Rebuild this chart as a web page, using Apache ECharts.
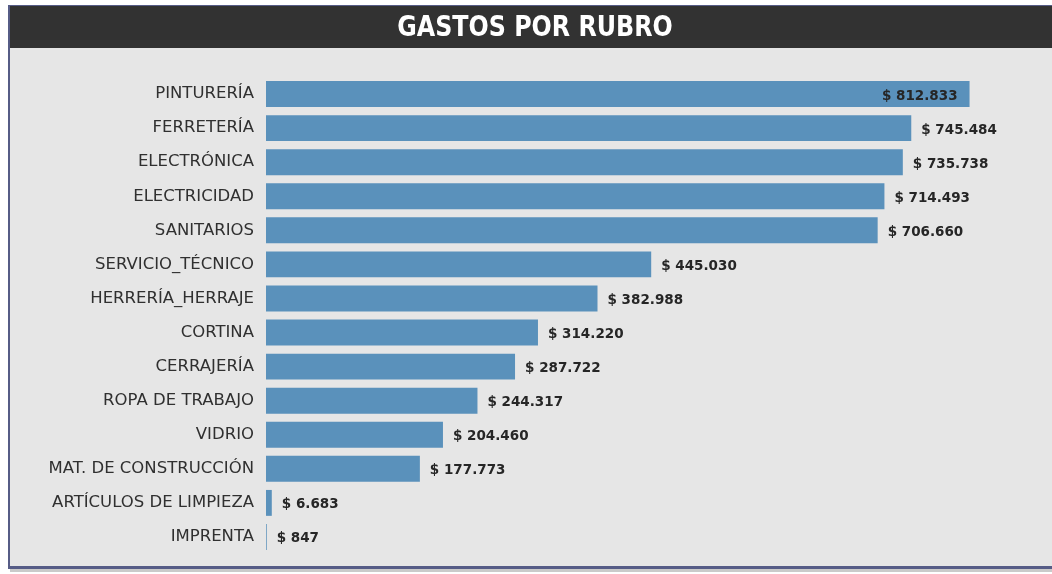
<!DOCTYPE html>
<html>
<head>
<meta charset="utf-8">
<script src="https://cdn.jsdelivr.net/npm/echarts@6/dist/echarts.min.js"></script>
<style>
  html, body { margin: 0; padding: 0; background: #fff; }
  #chart { width: 1052px; height: 574px; }
</style>
</head>
<body>
<div id="chart"></div>
<script>
const rubros = [
  'PINTURERÍA', 'FERRETERÍA', 'ELECTRÓNICA', 'ELECTRICIDAD', 'SANITARIOS',
  'SERVICIO_TÉCNICO', 'HERRERÍA_HERRAJE', 'CORTINA', 'CERRAJERÍA',
  'ROPA DE TRABAJO', 'VIDRIO', 'MAT. DE CONSTRUCCIÓN', 'ARTÍCULOS DE LIMPIEZA', 'IMPRENTA'
];
const gastos = [
  812833, 745484, 735738, 714493, 706660,
  445030, 382988, 314220, 287722,
  244317, 204460, 177773, 6683, 847
];

const fmtPesos = v => '$ ' + String(v).replace(/\B(?=(\d{3})+(?!\d))/g, '.');

const chart = echarts.init(document.getElementById('chart'));

chart.setOption({
  animation: false,
  graphic: [
    // sombra, borde y fondo del panel
    { type: 'rect', shape: { x: 10, y: 8, width: 1050, height: 564 }, style: { fill: '#cacaca' }, z: -10 },
    { type: 'rect', shape: { x: 8, y: 5, width: 1050, height: 564 }, style: { fill: '#565c86' }, z: -9 },
    { type: 'rect', shape: { x: 10, y: 48, width: 1050, height: 518 }, style: { fill: '#e6e6e6' }, z: -8 },
    { type: 'rect', shape: { x: 10, y: 6, width: 1050, height: 42 }, style: { fill: '#323232' }, z: -8 },
    {
      type: 'text',
      x: 535,
      y: 28,
      scaleX: 0.82,
      style: {
        text: 'GASTOS POR RUBRO',
        fill: '#ffffff',
        align: 'center',
        verticalAlign: 'middle',
        font: 'bold 29px "DejaVu Sans", sans-serif'
      },
      z: 5
    }
  ],
  grid: {
    left: 266,
    top: 77,
    width: 779,
    height: 477,
    containLabel: false
  },
  xAxis: {
    type: 'value',
    min: 0,
    max: 900000,
    show: false
  },
  yAxis: {
    type: 'category',
    data: rubros,
    inverse: true,
    axisLine: { show: false },
    axisTick: { show: false },
    axisLabel: {
      color: '#303030',
      fontSize: 16.5,
      fontFamily: '"DejaVu Sans", sans-serif',
      margin: 12
    }
  },
  series: [{
    type: 'bar',
    data: gastos.map((v, i) => ({
      value: v,
      label: i === 0 ? { position: 'insideRight', distance: 12 } : {}
    })),
    barCategoryGap: '24%',
    itemStyle: { color: '#5a91bb' },
    label: {
      show: true,
      position: 'right',
      distance: 10,
      color: '#262626',
      fontSize: 13.5,
      fontWeight: 'bold',
      fontFamily: '"DejaVu Sans", sans-serif',
      offset: [0, 2],
      formatter: p => fmtPesos(p.value)
    }
  }]
});
</script>
</body>
</html>
